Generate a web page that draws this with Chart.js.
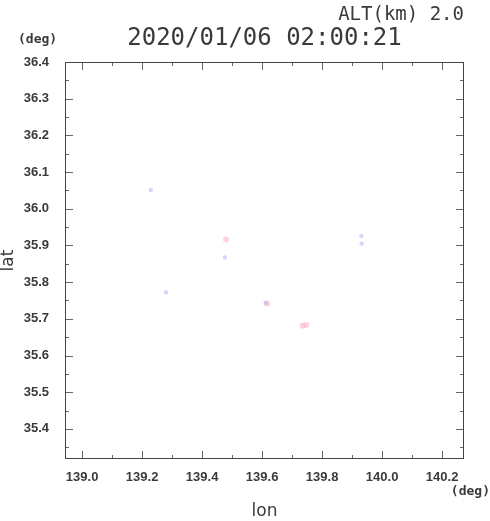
<!DOCTYPE html>
<html>
<head>
<meta charset="utf-8">
<script src="https://cdn.jsdelivr.net/npm/chart.js@4.4.1/dist/chart.umd.min.js"></script>
<style>
  html, body { margin: 0; padding: 0; background: #fff; }
  #wrap { width: 490px; height: 521px; }
</style>
</head>
<body>
<div id="wrap"><canvas id="myChart" width="490" height="521"></canvas></div>
<script>
// 1. Data
const titleText = '2020/01/06 02:00:21';
const altText = 'ALT(km) 2.0';

const blueLon = [139.229, 139.476, 139.280, 139.612, 139.931, 139.932];
const blueLat = [36.051, 35.867, 35.772, 35.744, 35.926, 35.905];

const pinkLon = [139.480, 139.735, 139.747, 139.617];
const pinkLat = [35.916, 35.681, 35.683, 35.742];

// axis ranges (deg)
const lonMin = 138.943, lonMax = 140.273;
const latMin = 35.318, latMax = 36.4;

const toPoints = (xs, ys) => xs.map((x, i) => ({ x: x, y: ys[i] }));

// 2. Frame, inward ticks and extra texts
const framePlugin = {
    id: 'frame',
    afterDraw(chart) {
        const ctx = chart.ctx;
        const a = chart.chartArea;
        const xs = chart.scales.x;
        const ys = chart.scales.y;
        ctx.save();

        // ticks on all four sides (major longer than minor)
        ctx.strokeStyle = '#666';
        ctx.lineWidth = 1;
        ctx.beginPath();
        xs.ticks.forEach(t => {
            const px = Math.round(xs.getPixelForValue(t.value)) + 0.5;
            const len = Math.round(t.value * 10) % 2 === 0 ? 8 : 4;
            ctx.moveTo(px, a.bottom); ctx.lineTo(px, a.bottom - len);
            ctx.moveTo(px, a.top); ctx.lineTo(px, a.top + len);
        });
        ys.ticks.forEach(t => {
            const py = Math.round(ys.getPixelForValue(t.value)) + 0.5;
            const len = Math.round(t.value * 20) % 2 === 0 ? 8 : 4;
            ctx.moveTo(a.left, py); ctx.lineTo(a.left + len, py);
            ctx.moveTo(a.right, py); ctx.lineTo(a.right - len, py);
        });
        ctx.stroke();

        // frame
        ctx.strokeStyle = '#444';
        ctx.strokeRect(Math.round(a.left) + 0.5, Math.round(a.top) + 0.5,
            Math.round(a.right - a.left) - 1, Math.round(a.bottom - a.top) - 1);

        // texts
        ctx.fillStyle = '#3a3a3a';
        ctx.textBaseline = 'middle';
        ctx.textAlign = 'center';
        ctx.font = '24px "DejaVu Sans Mono"';
        ctx.fillText(titleText, (a.left + a.right) / 2, 39);

        ctx.textAlign = 'right';
        ctx.font = '19px "DejaVu Sans Mono"';
        ctx.fillText(altText, 464, 15);

        ctx.font = 'bold 13px "DejaVu Sans Mono"';
        ctx.textAlign = 'left';
        ctx.fillText('(deg)', 18, 40);
        ctx.textAlign = 'right';
        ctx.fillText('(deg)', 490, 492);
        ctx.restore();
    }
};

// 3. Chart
const ctx = document.getElementById('myChart').getContext('2d');
const myChart = new Chart(ctx, {
    type: 'scatter',
    data: {
        datasets: [
            {
                label: 'blue',
                data: toPoints(blueLon, blueLat),
                backgroundColor: 'rgba(160,160,255,0.45)',
                borderWidth: 0,
                pointRadius: 2.2
            },
            {
                label: 'pink',
                data: toPoints(pinkLon, pinkLat),
                backgroundColor: 'rgba(255,165,185,0.5)',
                borderWidth: 0,
                pointRadius: 3
            }
        ]
    },
    options: {
        responsive: false,
        animation: false,
        layout: { padding: { left: 0, top: 62, right: 26, bottom: 0 } },
        plugins: {
            legend: { display: false },
            tooltip: { enabled: false }
        },
        scales: {
            x: {
                type: 'linear',
                min: lonMin, max: lonMax,
                afterFit: s => { s.height = 62; },
                grid: { display: false },
                border: { display: false },
                ticks: {
                    stepSize: 0.1,
                    includeBounds: false,
                    autoSkip: false,
                    maxRotation: 0,
                    padding: 3,
                    color: '#3a3a3a',
                    font: { family: 'Liberation Sans', size: 13, weight: 'bold' },
                    callback: v => Math.round(v * 10) % 2 === 0 ? v.toFixed(1) : ''
                },
                title: {
                    display: true, text: 'lon', color: '#3a3a3a',
                    font: { family: 'DejaVu Sans', size: 17, lineHeight: 1 },
                    padding: { top: 0, bottom: 1 }
                }
            },
            y: {
                type: 'linear',
                min: latMin, max: latMax,
                afterFit: s => { s.width = 65; },
                grid: { display: false },
                border: { display: false },
                ticks: {
                    stepSize: 0.05,
                    includeBounds: false,
                    autoSkip: false,
                    padding: 8,
                    color: '#3a3a3a',
                    font: { family: 'Liberation Sans', size: 13, weight: 'bold' },
                    callback: v => Math.round(v * 20) % 2 === 0 ? v.toFixed(1) : ''
                },
                title: {
                    display: true, text: 'lat', color: '#3a3a3a',
                    font: { family: 'DejaVu Sans', size: 17, lineHeight: 1 },
                    padding: { top: 0, bottom: 0 }
                }
            }
        }
    },
    plugins: [framePlugin]
});
</script>
</body>
</html>
